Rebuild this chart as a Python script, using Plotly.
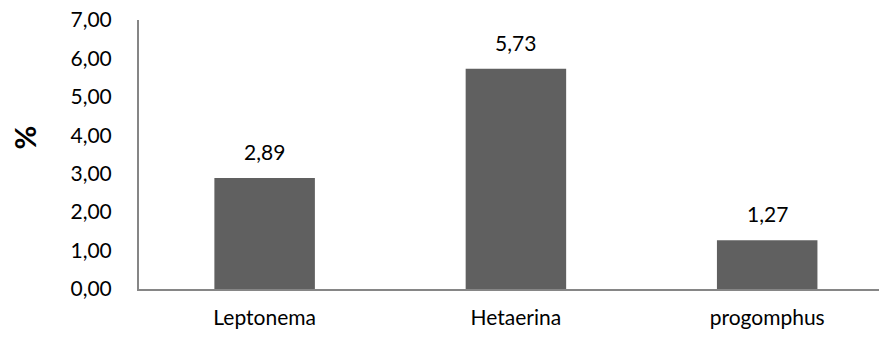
import plotly.graph_objects as go

# Genus shares (%)
genera = ["Leptonema", "Hetaerina", "progomphus"]
shares = [2.89, 5.73, 1.27]
y_ticks = [0, 1, 2, 3, 4, 5, 6, 7]
y_tick_text = ["0,00", "1,00", "2,00", "3,00", "4,00", "5,00", "6,00", "7,00"]

FONT = "Lato"
FONT_SIZE = 21
BAR = "#606060"
AXIS = "#868686"

fig = go.Figure(
    go.Bar(
        x=genera,
        y=shares,
        marker=dict(color=BAR, line=dict(width=0)),
        hoverinfo="skip",
    )
)

# Value labels above each bar, formatted with a decimal comma
for g, v in zip(genera, shares):
    fig.add_annotation(
        x=g, y=v, xref="x", yref="y",
        text=f"{v:.2f}".replace(".", ","),
        showarrow=False, yanchor="bottom", yshift=12,
        font=dict(family=FONT, size=FONT_SIZE, color="#000000"),
    )

# Rotated axis title
fig.add_annotation(
    x=-0.154, y=0.563, xref="paper", yref="paper",
    xanchor="center", yanchor="middle",
    text="<b>%</b>", textangle=-90, showarrow=False,
    font=dict(family=FONT, size=29, color="#000000"),
)

fig.update_layout(
    width=879, height=337,
    margin=dict(l=139, r=0, t=20, b=48, pad=0),
    paper_bgcolor="white", plot_bgcolor="white",
    bargap=0.6,
    showlegend=False,
    font=dict(family=FONT, size=FONT_SIZE, color="#000000"),
)
fig.update_xaxes(
    range=[-0.5, 2.445],
    showline=True, linecolor=AXIS, linewidth=2,
    showgrid=False, ticks="", ticklabelstandoff=9,
    tickfont=dict(family=FONT, size=FONT_SIZE, color="#000000"),
)
fig.update_yaxes(
    range=[0, 7],
    tickvals=y_ticks, ticktext=y_tick_text,
    showline=True, linecolor=AXIS, linewidth=2,
    showgrid=False, zeroline=False, ticks="", ticklabelstandoff=21,
    tickfont=dict(family=FONT, size=FONT_SIZE, color="#000000"),
)

fig.write_html("out.html")
